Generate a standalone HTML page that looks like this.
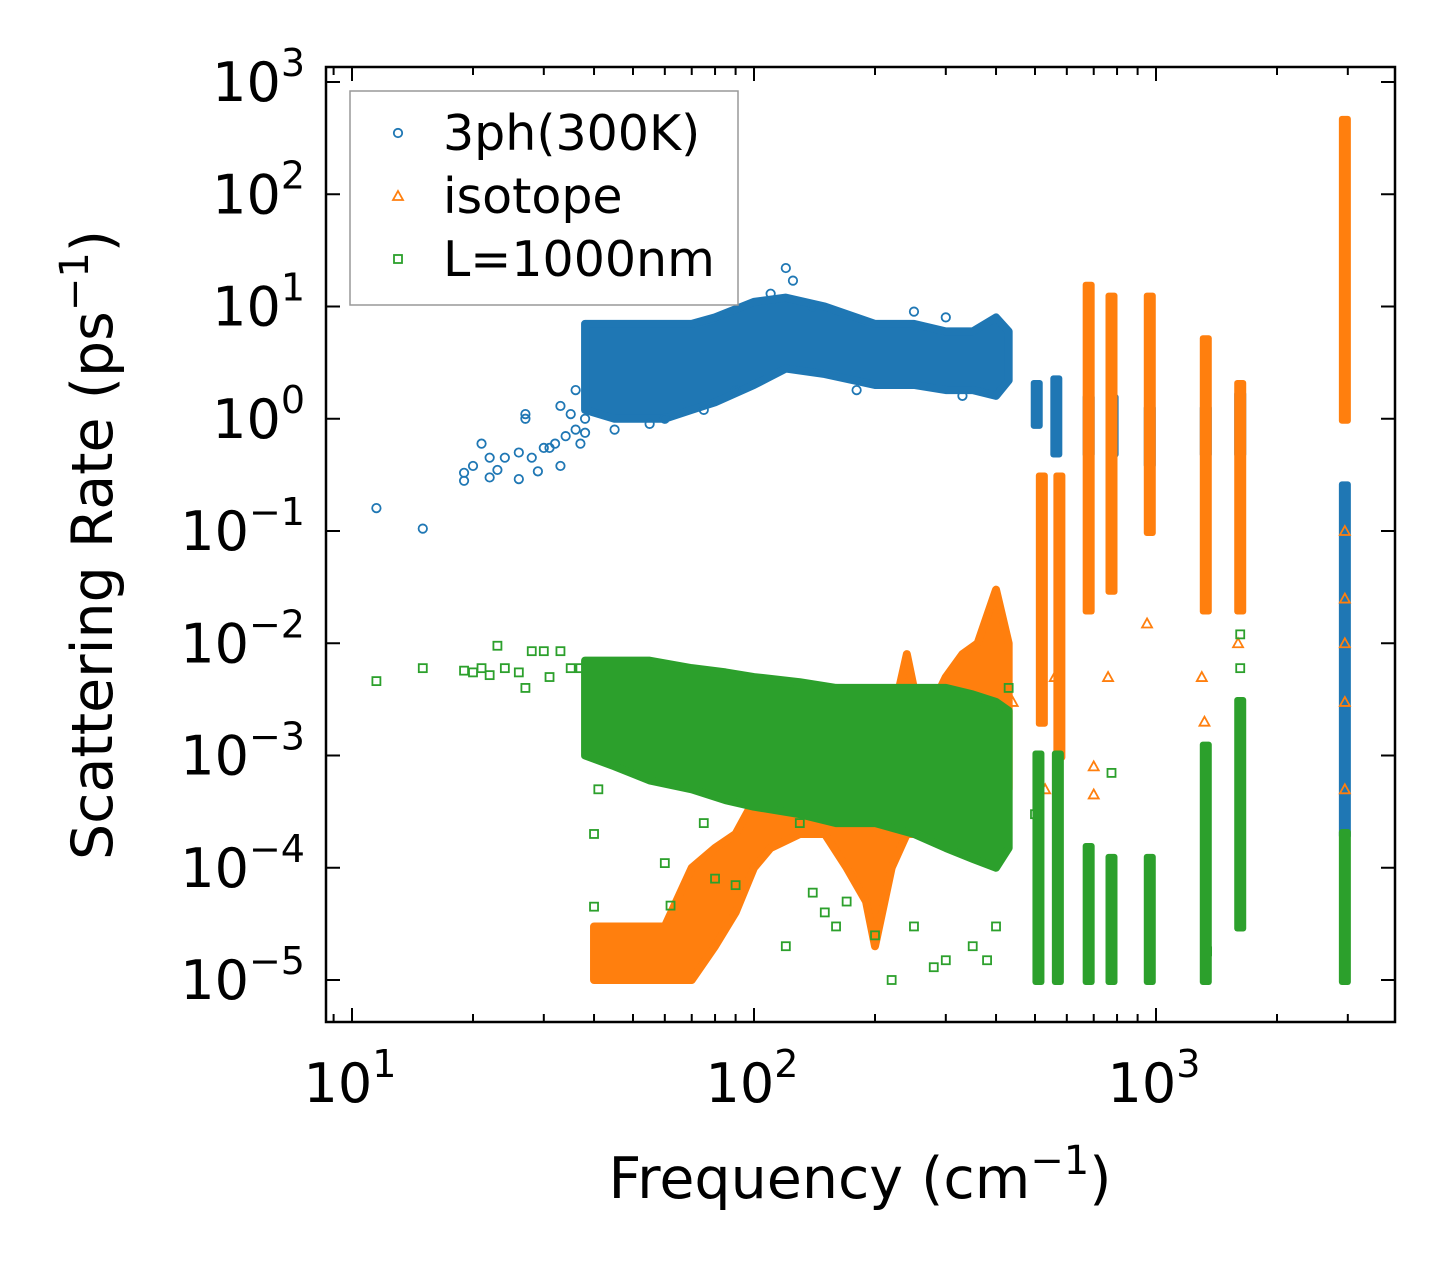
<!DOCTYPE html>
<html><head><meta charset="utf-8"><style>
body{margin:0;background:#fff;}
svg{display:block;font-family:"DejaVu Sans","Liberation Sans",sans-serif;}
</style></head><body>
<svg id="chart" width="1455" height="1272" viewBox="0 0 1455 1272" xmlns="http://www.w3.org/2000/svg">
<rect width="1455" height="1272" fill="#fff"/>
<g id="marks"></g>
<g id="axes"></g>
</svg>
<script>
// ---------- data ----------
const blueX = [11.5,15,19,19,20,21,22,22,23,24,26,26,27,27,28,29,30,31,32,33,33,34,35,36,36,37,38,38,45,55,60,75,90,110,120,125,140,180,250,300,330];
const blueY = [0.16,0.105,0.28,0.33,0.38,0.6,0.3,0.45,0.35,0.45,0.29,0.5,1.0,1.1,0.45,0.34,0.55,0.55,0.6,0.38,1.3,0.7,1.1,0.8,1.8,0.6,1.0,0.75,0.8,0.9,1.0,1.2,1.8,13,22,17,10,1.8,9,8,1.6];
const blueBandX = [38,45,50,60,70,80,100,120,150,200,250,300,350,400,430];
const blueBandLo = [1.2,1.0,1.0,1.0,1.2,1.4,2.0,2.8,2.5,2.0,2.0,1.8,1.8,1.6,2.2];
const blueBandHi = [7,7,7,7,7,8,11,12,10,7,7,6,6,8,6];
const blueClX = [505,565,680,780,965,1330,1620,2950];
const blueClLo = [0.9,0.5,0.5,0.5,0.4,0.5,0.5,0.0002];
const blueClHi = [2.0,2.2,1.5,1.5,1.2,1.2,1.6,0.25];

const orBandX = [40,50,60,70,80,90,100,110,130,150,170,190,200,220,240,260,280,300,330,360,400,430];
const orBandLo = [1e-5,1e-5,1e-5,1e-5,2e-5,4e-5,1e-4,1.5e-4,2e-4,2e-4,1e-4,5e-5,2e-5,1e-4,2e-4,2e-4,2e-4,2e-4,2e-4,3e-4,3e-4,5e-4];
const orBandHi = [3e-5,3e-5,3e-5,1e-4,1.5e-4,2e-4,4e-4,7e-4,8e-4,1e-3,1.5e-3,1e-3,7e-4,2e-3,8e-3,2e-3,3e-3,5e-3,8e-3,1e-2,3e-2,1e-2];
const orClX = [520,575,680,775,965,1330,1620,2950];
const orClLo = [2e-3,1e-3,0.02,0.03,0.1,0.02,0.02,1];
const orClHi = [0.3,0.3,15,12,12,5,2,450];
const orX = [530,560,700,700,760,950,1300,1320,1600,2950,2950,2950,2950,2950,440,420];
const orY = [5e-4,5e-3,8e-4,4.5e-4,0.005,0.015,0.005,0.002,0.01,0.1,0.025,0.003,0.01,5e-4,3e-3,5e-4];

const grX = [11.5,15,19,20,21,22,23,24,26,27,28,30,31,33,35,37,40,40,41,60,62,75,80,90,120,130,140,150,160,170,200,220,250,280,300,350,380,400,430,1620,1620,775,500,1340];
const grY = [0.0046,0.006,0.0057,0.0055,0.006,0.0052,0.0095,0.006,0.0055,0.004,0.0085,0.0085,0.005,0.0085,0.006,0.006,2e-4,4.5e-5,5e-4,1.1e-4,4.6e-5,2.5e-4,8e-5,7e-5,2e-5,2.5e-4,6e-5,4e-5,3e-5,5e-5,2.5e-5,1e-5,3e-5,1.3e-5,1.5e-5,2e-5,1.5e-5,3e-5,0.004,0.012,0.006,7e-4,3e-4,1.8e-5];
const grBandX = [38,45,55,70,85,100,130,160,200,250,300,350,400,430];
const grBandLo = [1e-3,8e-4,6e-4,5e-4,4e-4,3.5e-4,3e-4,2.5e-4,2.5e-4,2e-4,1.5e-4,1.2e-4,1e-4,1.5e-4];
const grBandHi = [7e-3,7e-3,7e-3,6e-3,5.5e-3,5e-3,4.5e-3,4e-3,4e-3,4e-3,4e-3,3.5e-3,3e-3,2.5e-3];
const grClX = [510,570,680,775,965,1330,1620,2950];
const grClLo = [1e-5,1e-5,1e-5,1e-5,1e-5,1e-5,3e-5,1e-5];
const grClHi = [1e-3,1e-3,1.5e-4,1.2e-4,1.2e-4,1.2e-3,3e-3,2e-4];

const xTickVals = [10,100,1000];
const xTickExp = ["1","2","3"];
const yTickVals = [1e3,1e2,1e1,1,1e-1,1e-2,1e-3,1e-4,1e-5];
const yTickExp = ["3","2","1","0","\u22121","\u22122","\u22123","\u22124","\u22125"];

// ---------- geometry ----------
const L=326,R=1395,T=67,B=1022;
const X=v=>352+(Math.log10(v)-1)*402;
const Y=v=>82+(3-Math.log10(v))*112.25;
const NS="http://www.w3.org/2000/svg";
const marks=document.getElementById('marks'), axes=document.getElementById('axes');
function mk(tag,attrs,parent){const e=document.createElementNS(NS,tag);for(const k in attrs)e.setAttribute(k,attrs[k]);parent.appendChild(e);return e;}
const C={b:'#1f77b4',o:'#ff7f0e',g:'#2ca02c'};

function band(xs,lo,hi,col,name){
  let p=xs.map((x,i)=>X(x)+','+Y(hi[i]));
  for(let i=xs.length-1;i>=0;i--)p.push(X(xs[i])+','+Y(lo[i]));
  const e=mk('polygon',{points:p.join(' '),fill:col,stroke:col,'stroke-width':8,'stroke-linejoin':'round'},marks);
  
  
}
function clusters(xs,lo,hi,col,name){
  xs.forEach((x,i)=>{
    const e=mk('rect',{x:X(x)-6,y:Y(hi[i])-5,width:12,height:Y(lo[i])-Y(hi[i])+10,fill:col,rx:3},marks);
    
    
  });
}
function marker(kind,cx,cy,col,parent){
  if(kind==='c')return mk('circle',{cx:cx,cy:cy,r:4.2,fill:'none',stroke:col,'stroke-width':1.8},parent);
  if(kind==='t')return mk('polygon',{points:`${cx},${cy-5} ${cx+5},${cy+4} ${cx-5},${cy+4}`,fill:'none',stroke:col,'stroke-width':1.8},parent);
  return mk('rect',{x:cx-4,y:cy-4,width:8,height:8,fill:'none',stroke:col,'stroke-width':1.8},parent);
}
function points(xs,ys,kind,col,name){
  xs.forEach((x,i)=>{
    const e=marker(kind,X(x),Y(ys[i]),col,marks);
    
    
  });
}
band(blueBandX,blueBandLo,blueBandHi,C.b,'3ph-band');
clusters(blueClX,blueClLo,blueClHi,C.b,'3ph-cluster');
points(blueX,blueY,'c',C.b,'3ph-point');
band(orBandX,orBandLo,orBandHi,C.o,'isotope-band');
clusters(orClX,orClLo,orClHi,C.o,'isotope-cluster');
points(orX,orY,'t',C.o,'isotope-point');
band(grBandX,grBandLo,grBandHi,C.g,'boundary-band');
clusters(grClX,grClLo,grClHi,C.g,'boundary-cluster');
points(grX,grY,'s',C.g,'boundary-point');

// ---------- axes ----------
const frame=mk('rect',{x:L,y:T,width:R-L,height:B-T,fill:'none',stroke:'#000','stroke-width':2.5},axes);


for(let d=0;d<4;d++){for(let m=1;m<10;m++){
  const x=X(m*Math.pow(10,d));
  if(x<L||x>R)continue;
  const len=m===1?14:8;
  mk('line',{x1:x,y1:B,x2:x,y2:B-len,stroke:'#000','stroke-width':2},axes);
  mk('line',{x1:x,y1:T,x2:x,y2:T+len,stroke:'#000','stroke-width':2},axes);
}}
xTickVals.forEach((v,i)=>{
  const t=mk('text',{x:X(v)-2,y:1102,'font-size':54,'text-anchor':'middle',fill:'#000'},axes);
  t.textContent='10';
  const s=mk('tspan',{dy:-25,'font-size':38},t); s.textContent=xTickExp[i];
  
  
});
yTickVals.forEach((v,i)=>{
  const y=Y(v);
  mk('line',{x1:L,y1:y,x2:L+14,y2:y,stroke:'#000','stroke-width':2},axes);
  mk('line',{x1:R,y1:y,x2:R-14,y2:y,stroke:'#000','stroke-width':2},axes);
  const t=mk('text',{x:305,y:y+19,'font-size':54,'text-anchor':'end',fill:'#000'},axes);
  const a=mk('tspan',{},t); a.textContent='10';
  const s=mk('tspan',{dy:-25,'font-size':38},t); s.textContent=yTickExp[i];
  
  
});
</script>
<svg style="position:absolute;left:0;top:0" width="1455" height="1272" xmlns="http://www.w3.org/2000/svg" font-family="DejaVu Sans, Liberation Sans, sans-serif">
<text x="860" y="1198" font-size="57" text-anchor="middle">Frequency (cm<tspan dy="-24" font-size="40">−1</tspan><tspan dy="24">)</tspan></text>
<text transform="translate(112,545) rotate(-90)" font-size="57" text-anchor="middle">Scattering Rate (ps<tspan dy="-24" font-size="40">−1</tspan><tspan dy="24">)</tspan></text>
<g>
<rect x="350" y="91" width="388" height="214" fill="#fff" fill-opacity="0.8" stroke="#999" stroke-width="1.5"/>
<circle cx="398" cy="133" r="4.2" fill="none" stroke="#1f77b4" stroke-width="1.8"/>
<text x="443" y="150" font-size="49">3ph(300K)</text>
<polygon points="398,191 403,200 393,200" fill="none" stroke="#ff7f0e" stroke-width="1.8"/>
<text x="443" y="213" font-size="49">isotope</text>
<rect x="394" y="255" width="8" height="8" fill="none" stroke="#2ca02c" stroke-width="1.8"/>
<text x="443" y="276" font-size="49">L=1000nm</text>
</g>
</svg>
</body></html>
